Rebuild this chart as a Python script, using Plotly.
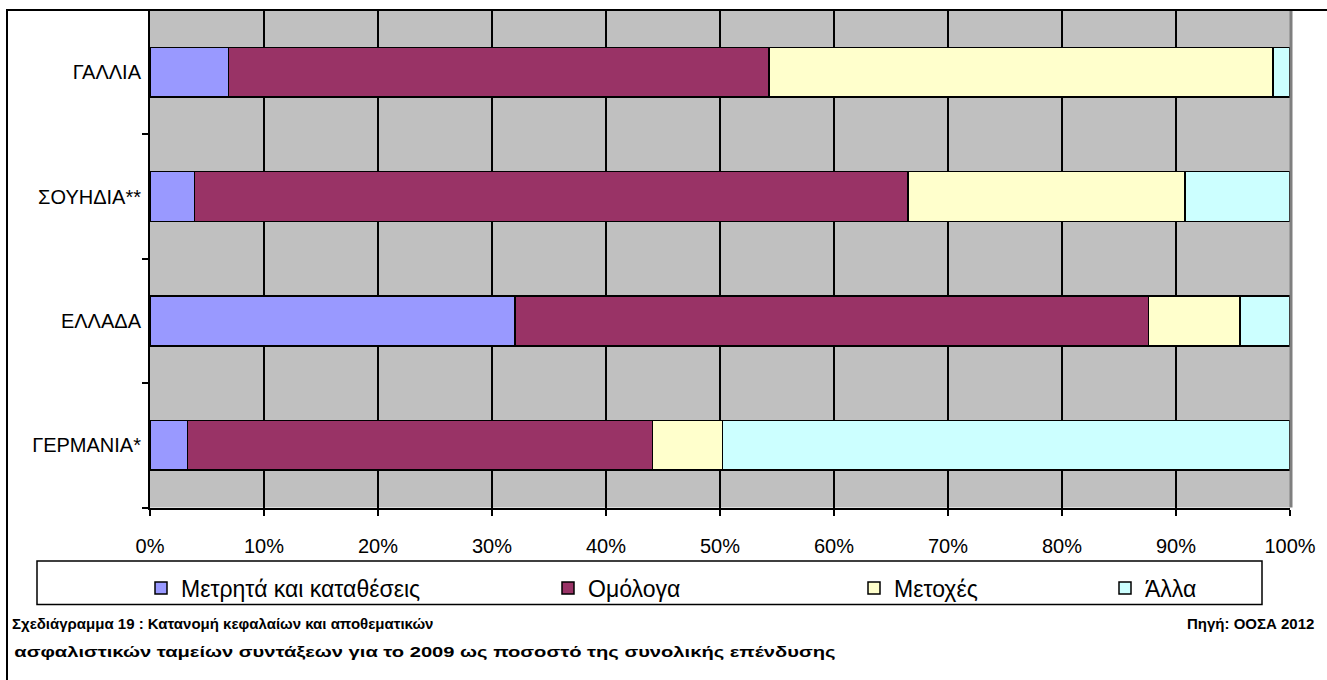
import plotly.graph_objects as go

# Pension fund asset allocation, 2009 (% of total investment)
countries = ["ΓΕΡΜΑΝΙΑ*", "ΕΛΛΑΔΑ", "ΣΟΥΗΔΙΑ**", "ΓΑΛΛΙΑ"]
cash = [3.3, 32.0, 3.9, 6.9]
bonds = [40.8, 55.6, 62.6, 47.4]
equity = [6.1, 8.0, 24.3, 44.2]
other = [49.8, 4.4, 9.2, 1.5]

series_names = ["Μετρητά και καταθέσεις", "Ομόλογα", "Μετοχές", "Άλλα"]
series_values = [cash, bonds, equity, other]
series_colors = ["#9999FF", "#993366", "#FFFFCC", "#CCFFFF"]

caption_1 = "Σχεδιάγραμμα 19 : Κατανομή κεφαλαίων και αποθεματικών"
caption_2 = "ασφαλιστικών ταμείων συντάξεων για το 2009 ως ποσοστό της συνολικής επένδυσης"
source = "Πηγή: ΟΟΣΑ 2012"

W, H = 1327, 680
L, R, T, B = 150, 1290, 10, 512  # plot area in pixels


def px_x(p):
    return (p - L) / (R - L)


def px_y(p):
    return (B - p) / (B - T)


FONT = "Liberation Sans, Arial, sans-serif"

fig = go.Figure()
legend_names = ["legend", "legend2", "legend3", "legend4"]
legend_x = [141, 548, 854, 1105]

for name, vals, col, lg in zip(series_names, series_values, series_colors, legend_names):
    fig.add_trace(go.Bar(
        y=countries, x=vals, name=name, orientation="h",
        marker=dict(color=col, line=dict(color="black", width=1.5)),
        legend=lg, hoverinfo="name+x",
    ))

legend_common = dict(
    orientation="h", xref="container", yref="container",
    xanchor="left", yanchor="middle", y=1 - 588 / H,
    bgcolor="rgba(0,0,0,0)", borderwidth=0,
    font=dict(family=FONT, size=23, color="black"),
)
layout_legends = {}
for lg, lx in zip(legend_names, legend_x):
    layout_legends[lg] = dict(legend_common, x=lx / W)

fig.update_layout(
    width=W, height=H,
    margin=dict(l=L, r=W - R, t=T, b=H - B, pad=0),
    paper_bgcolor="white", plot_bgcolor="#C0C0C0",
    barmode="stack", bargap=0.6,
    font=dict(family=FONT, size=20, color="black"),
    showlegend=True,
    **layout_legends,
)

fig.update_xaxes(
    range=[0, 100], dtick=10, ticksuffix="%",
    showgrid=True, gridcolor="black", gridwidth=2,
    showline=True, linecolor="black", linewidth=2,
    ticks="outside", ticklen=6, tickwidth=2, tickcolor="black",
    ticklabelstandoff=13,
    zeroline=False, fixedrange=True,
    tickfont=dict(family=FONT, size=20, color="black"),
)
fig.update_yaxes(
    type="category", categoryorder="array", categoryarray=countries,
    showgrid=False, showline=True, linecolor="black", linewidth=2,
    ticks="outside", tickson="boundaries", ticklen=6, tickwidth=2, tickcolor="black",
    ticklabelstandoff=3,
    zeroline=False, fixedrange=True,
    tickfont=dict(family=FONT, size=20, color="black"),
)

shapes = [
    # outer chart frame (left and top edges visible)
    dict(type="rect", xref="paper", yref="paper",
         x0=px_x(7), x1=px_x(1345), y0=px_y(700), y1=px_y(10),
         line=dict(color="black", width=2), fillcolor="rgba(0,0,0,0)", layer="above"),
    # plot area right edge shading
    dict(type="line", xref="paper", yref="paper",
         x0=px_x(1291), x1=px_x(1291), y0=0, y1=px_y(11),
         line=dict(color="#7F7F7F", width=3), layer="above"),
    # legend box
    dict(type="rect", xref="paper", yref="paper",
         x0=px_x(37), x1=px_x(1262), y0=px_y(610), y1=px_y(566),
         line=dict(color="black", width=1.5), fillcolor="rgba(0,0,0,0)", layer="above"),
]
fig.update_layout(shapes=shapes)

bold_font = dict(family=FONT, size=15, color="black", weight="bold")
fig.add_annotation(text=caption_1, xref="paper", yref="paper",
                   x=px_x(10), y=px_y(629), xanchor="left", yanchor="middle",
                   showarrow=False, font=bold_font)
# second caption line is centred on its span and stretched horizontally below
fig.add_annotation(text=caption_2, xref="paper", yref="paper",
                   x=px_x(425), y=px_y(657), xanchor="center", yanchor="middle",
                   showarrow=False, font=bold_font)
fig.add_annotation(text=source, xref="paper", yref="paper",
                   x=px_x(1316), y=px_y(629), xanchor="right", yanchor="middle",
                   showarrow=False, font=bold_font)

widen_caption = """
(function () {
  var gd = document.getElementsByClassName('plotly-graph-div')[0];
  var target = 822;
  function widen() {
    document.querySelectorAll('text.annotation-text').forEach(function (t) {
      if (t.textContent.indexOf('ασφαλιστικών') === 0) {
        t.style.transform = 'none';
        var w = t.getBBox().width;
        if (w > 0) {
          t.style.transformBox = 'fill-box';
          t.style.transformOrigin = 'center';
          t.style.transform = 'scaleX(' + (target / w) + ')';
        }
      }
    });
  }
  widen();
  if (gd && gd.on) { gd.on('plotly_afterplot', widen); }
})();
"""

fig.write_html("out.html", config={"displayModeBar": False}, post_script=widen_caption)
